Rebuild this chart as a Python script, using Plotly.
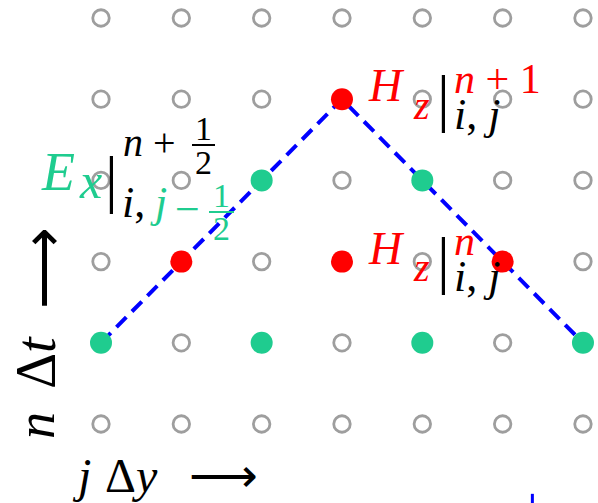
import plotly.graph_objects as go

# ---- data ----
grid_cols = [0, 1, 2, 3, 4, 5, 6]
grid_rows = [0, 1, 2, 3, 4, 5]
h_points_j = [3, 1, 3, 5]
h_points_n = [4, 2, 2, 2]
e_points_j = [2, 4, 0, 2, 4, 6]
e_points_n = [3, 3, 1, 1, 1, 1]
path_j = [0, 3, 6]
path_n = [1, 4, 1]
stray_j = [5.37, 5.37]
stray_n = [-0.86, -1.2]

W, H = 598, 503
GRAY = "#9e9e9e"
GREEN = "#1fcc8f"
RED = "#ff0000"
BLUE = "#0000ff"
FONT = "Liberation Serif"

gx = [c for r in grid_rows for c in grid_cols]
gy = [r for r in grid_rows for c in grid_cols]

fig = go.Figure()
fig.add_trace(go.Scatter(x=gx, y=gy, mode="markers",
                         marker=dict(symbol="circle-open", size=16.5, color=GRAY,
                                     line=dict(width=2.8, color=GRAY)),
                         hoverinfo="skip"))
fig.add_trace(go.Scatter(x=path_j, y=path_n, mode="lines",
                         line=dict(color=BLUE, width=4, dash="14px,8px"),
                         hoverinfo="skip"))
fig.add_trace(go.Scatter(x=stray_j, y=stray_n, mode="lines",
                         line=dict(color=BLUE, width=3), hoverinfo="skip"))
fig.add_trace(go.Scatter(x=h_points_j, y=h_points_n, mode="markers",
                         marker=dict(size=22, color=RED), hoverinfo="skip"))
fig.add_trace(go.Scatter(x=e_points_j, y=e_points_n, mode="markers",
                         marker=dict(size=22, color=GREEN), hoverinfo="skip"))

anns = []
shapes = []


def ann(text, cx, cy, size, color="black", angle=0, xanchor="center", align="center"):
    anns.append(dict(text=text, x=cx / W, y=1 - cy / H, xref="paper", yref="paper",
                     xanchor=xanchor, yanchor="middle", showarrow=False,
                     textangle=angle, align=align,
                     font=dict(family=FONT, size=size, color=color)))


def span(text, size, color):
    return f'<span style="font-size:{size}px;color:{color}">{text}</span>'


def bar(x0, x1, y, color):
    shapes.append(dict(type="line", xref="paper", yref="paper",
                       x0=x0 / W, x1=x1 / W, y0=1 - y / H, y1=1 - y / H,
                       line=dict(color=color, width=2)))


# H_z labels
for dy, sup in [(0, "<i>n</i> + 1"), (162, "<i>n</i>")]:
    ann("<i>H</i>", 386, 86 + dy, 46, RED)
    ann("<i>z</i>", 421, 105 + dy, 40, RED)
    ann("|", 444, 97 + dy, 64, "black")
    ann(span(sup, 42, RED) + "<br>" + span("<i>i</i>, <i>j</i>", 44, "black"),
        452, 97 + dy, 28, "black", xanchor="left", align="left")

# E_x label
ann("<i>E</i>", 58, 172, 54, GREEN)
ann("<i>x</i>", 90, 181, 50, GREEN)
ann("|", 112, 178, 64, "black")
ann("<i>n</i> +", 149, 143, 40, "black")
ann(span("1", 34, "black") + "<br>" + span("2", 34, "black"), 203, 146, 26, "black")
bar(192, 215, 145, "black")
ann("<i>i</i>,", 133, 203, 44, "black")
ann("<i>j</i>", 158, 203, 44, GREEN)
ann("−", 187, 209, 44, GREEN)
ann(span("1", 34, GREEN) + "<br>" + span("2", 34, GREEN), 222, 212, 25.4, GREEN)
bar(209, 234, 212, GREEN)

# axis labels
ann("<i>j</i>", 81, 475, 48, "black")
ann("Δ<i>y</i>", 131, 475, 48, "black")
ann("⟶", 224, 475, 48, "black")
ann("<i>n</i>", 36, 426, 54, "black", angle=-90)
ann("Δ<i>t</i>", 36, 363, 56, "black", angle=-90)
ann("⟶", 43, 268, 57, "black", angle=-90)

fig.update_layout(
    width=W, height=H, margin=dict(l=0, r=0, t=0, b=0),
    paper_bgcolor="white", plot_bgcolor="white", showlegend=False,
    xaxis=dict(range=[-101 / 80.33, (598 - 101) / 80.33], visible=False, fixedrange=True),
    yaxis=dict(range=[(424 - 503) / 81.2, 424 / 81.2], visible=False, fixedrange=True),
    annotations=anns, shapes=shapes,
)
fig.write_html("out.html")
